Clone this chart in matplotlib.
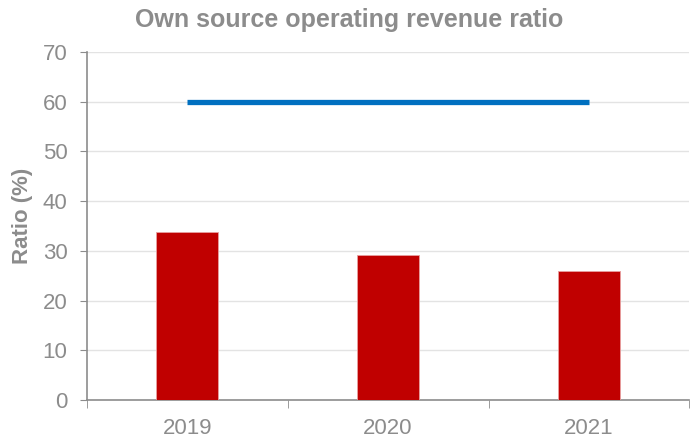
import numpy as np
import matplotlib.pyplot as plt

years = ['2019', '2020', '2021']
ratio = [33.8, 29.1, 25.9]
target = [60, 60, 60]

grey = '#8c8c8c'
plt.rcParams['font.family'] = ['Liberation Sans', 'DejaVu Sans']

fig = plt.figure(figsize=(6.9, 4.41), dpi=100)
ax = fig.add_axes([0.126, 0.093, 0.873, 0.789])

x = np.arange(len(years))
ax.bar(x, ratio, width=0.31, color='#c00000', edgecolor='#e8a0a0', linewidth=0.6, zorder=3)
ax.plot(x, target, color='#0070c0', linewidth=3.8, solid_capstyle='butt', zorder=4)

ax.set_xlim(-0.5, len(years) - 0.5)
ax.set_ylim(0, 70)
ax.set_yticks(range(0, 71, 10))
ax.set_xticks(x)
ax.set_xticklabels(years)
ax.set_xticks(np.arange(-0.5, len(years) + 0.5, 1), minor=True)
ax.tick_params(axis='x', which='major', length=0, pad=13, labelsize=16, labelcolor=grey)
ax.tick_params(axis='x', which='minor', length=6, color=grey, direction='out')
ax.tick_params(axis='y', length=5, color=grey, labelsize=16, labelcolor=grey, pad=9)

ax.grid(axis='y', color='#e3e3e3', linewidth=1, zorder=0)
ax.set_axisbelow(True)
for s in ['top', 'right']:
    ax.spines[s].set_visible(False)
for s in ['left', 'bottom']:
    ax.spines[s].set_color(grey)
    ax.spines[s].set_linewidth(1.2)

ax.set_ylabel('Ratio (%)', fontsize=16, fontweight='bold', color=grey)
ax.yaxis.set_label_coords(-0.089, 0.53)
fig.suptitle('Own source operating revenue ratio', x=0.506, y=0.982, fontsize=18,
             fontweight='bold', color=grey)

fig.savefig('out.png', dpi=100)
